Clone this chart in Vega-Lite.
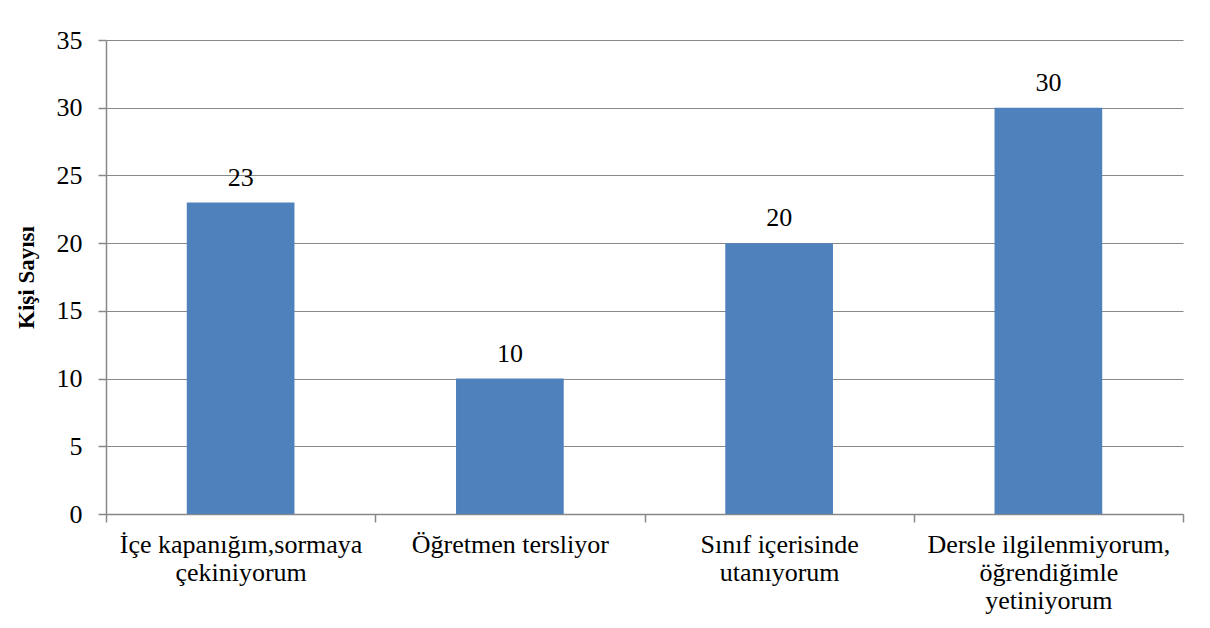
{
  "$schema": "https://vega.github.io/schema/vega-lite/v6.json",
  "autosize": "none",
  "width": 1077,
  "height": 474,
  "padding": {"left": 106, "top": 40, "right": 27, "bottom": 114},
  "background": "white",
  "data": {"values": [
    {"neden": "İçe kapanığım,sormaya|çekiniyorum", "sayi": 23},
    {"neden": "Öğretmen tersliyor", "sayi": 10},
    {"neden": "Sınıf içerisinde|utanıyorum", "sayi": 20},
    {"neden": "Dersle ilgilenmiyorum,|öğrendiğimle|yetiniyorum", "sayi": 30}
  ]},
  "encoding": {
    "x": {"field": "neden", "type": "nominal", "sort": null,
      "scale": {"paddingInner": 0, "paddingOuter": 0},
      "axis": {"title": null, "labelAngle": 0, "ticks": true, "domain": true, "tickBand": "extent", "labelExpr": "split(datum.label, '|')",
        "labelFont": "Liberation Serif", "labelFontSize": 26, "labelColor": "black", "labelLineHeight": 28,
        "labelPadding": 9, "labelLimit": 0, "tickSize": 8, "tickWidth": 1.5, "domainColor": "#888888", "domainWidth": 1.5, "tickColor": "#888888", "labelBaseline": "top"}},
    "y": {"field": "sayi", "type": "quantitative",
      "scale": {"domain": [0, 35]},
      "axis": {"title": "Kişi Sayısı", "values": [0, 5, 10, 15, 20, 25, 30, 35], "ticks": true, "domain": true, "tickSize": 8, "tickWidth": 1.5,
        "labelFont": "Liberation Serif", "labelFontSize": 26, "labelColor": "black", "labelPadding": 16,
        "titleFont": "Liberation Serif", "titleFontSize": 23, "titleFontWeight": "bold", "titleColor": "black", "titlePadding": 18,
        "gridColor": "#888888", "gridWidth": 1.2, "domainColor": "#888888", "domainWidth": 1.5, "tickColor": "#888888"}}
  },
  "layer": [
    {"mark": {"type": "bar", "color": "#4F81BD", "width": {"band": 0.4}}},
    {"mark": {"type": "text", "dy": -17, "baseline": "alphabetic", "font": "Liberation Serif", "fontSize": 26, "color": "black"},
      "encoding": {"text": {"field": "sayi", "type": "quantitative"}}}
  ],
  "config": {"view": {"stroke": null}}
}
